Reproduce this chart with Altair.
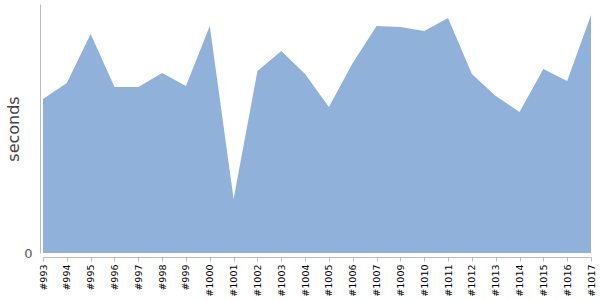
import altair as alt
import pandas as pd

builds = ["#993", "#994", "#995", "#996", "#997", "#998", "#999", "#1000",
          "#1001", "#1002", "#1003", "#1004", "#1005", "#1006", "#1007",
          "#1009", "#1010", "#1011", "#1012", "#1013", "#1014", "#1015",
          "#1016", "#1017"]
seconds = [154, 170, 219, 166, 166, 180, 167, 227,
           54, 182, 202, 179, 146, 190, 227,
           226, 222, 235, 179, 157, 141, 184,
           172, 238]

df = pd.DataFrame({"build": builds, "seconds": seconds})

chart = alt.Chart(df).mark_area(color="#8fb1da", opacity=1, interpolate="linear").encode(
    x=alt.X("build:N", sort=builds,
            scale=alt.Scale(type="point", padding=0),
            axis=alt.Axis(title=None, labelAngle=270, labelColor="#000000",
                          labelFontSize=9.5, labelFont="DejaVu Sans",
                          labelPadding=3, tickSize=4, tickColor="#bbbbbb",
                          domainColor="#bbbbbb", offset=4, grid=False)),
    y=alt.Y("seconds:Q",
            scale=alt.Scale(domain=[0, 249], nice=False),
            axis=alt.Axis(title="seconds", values=[0], grid=False,
                          tickSize=0, labelPadding=8, labelFontSize=13,
                          labelColor="#555555", labelFont="DejaVu Sans",
                          titleFont="DejaVu Sans", titleFontSize=16,
                          titleFontWeight="normal", titleColor="#444444",
                          titlePadding=2,
                          domainColor="#bbbbbb", offset=3)),
).properties(
    width=548, height=249,
    autosize=alt.AutoSizeParams(type="none"),
    padding={"left": 43, "top": 4, "right": 9, "bottom": 47},
).configure_view(stroke=None)

chart.save("out.html", embed_options={"renderer": "svg", "actions": False})
